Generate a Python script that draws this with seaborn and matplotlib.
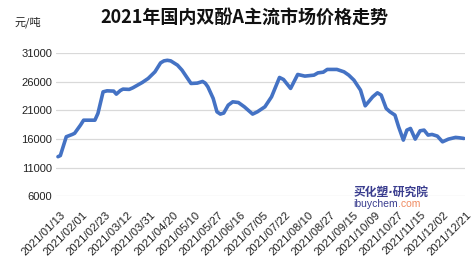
import numpy as np
import pandas as pd
import matplotlib
matplotlib.use("Agg")
import matplotlib.pyplot as plt
import matplotlib.transforms as mtransforms
import seaborn as sns

# ---- data ----
tick_labels = ["2021/01/13", "2021/02/01", "2021/02/23", "2021/03/12", "2021/03/31",
               "2021/04/20", "2021/05/10", "2021/05/27", "2021/06/16", "2021/07/05",
               "2021/07/22", "2021/08/10", "2021/08/27", "2021/09/15", "2021/10/09",
               "2021/10/27", "2021/11/15", "2021/12/02", "2021/12/21"]

dates = ["2021-01-13", "2021-01-15", "2021-01-20", "2021-01-25", "2021-01-27",
         "2021-02-01", "2021-02-04", "2021-02-15", "2021-02-18", "2021-02-23",
         "2021-02-26", "2021-03-03", "2021-03-05", "2021-03-08", "2021-03-10",
         "2021-03-15", "2021-03-18", "2021-03-23", "2021-03-26", "2021-03-31",
         "2021-04-06", "2021-04-11", "2021-04-14", "2021-04-17", "2021-04-20",
         "2021-04-26", "2021-04-30", "2021-05-04", "2021-05-08", "2021-05-13",
         "2021-05-17", "2021-05-19", "2021-05-21", "2021-05-25", "2021-05-28",
         "2021-05-31", "2021-06-03", "2021-06-07", "2021-06-11", "2021-06-16",
         "2021-06-21", "2021-06-28", "2021-07-02", "2021-07-08", "2021-07-13",
         "2021-07-19", "2021-07-22", "2021-07-28", "2021-08-03", "2021-08-09",
         "2021-08-16", "2021-08-19", "2021-08-23", "2021-08-26", "2021-09-03",
         "2021-09-09", "2021-09-13", "2021-09-18", "2021-09-25", "2021-09-30",
         "2021-10-08", "2021-10-12", "2021-10-15", "2021-10-19", "2021-10-22",
         "2021-10-26", "2021-10-29", "2021-11-02", "2021-11-05", "2021-11-08",
         "2021-11-12", "2021-11-16", "2021-11-19", "2021-11-22", "2021-11-25",
         "2021-11-29", "2021-12-03", "2021-12-08", "2021-12-14", "2021-12-17",
         "2021-12-21"]

prices = [12900, 13100, 16400, 16800, 17000,
          18450, 19300, 19300, 20500, 24270,
          24450, 24400, 23870, 24500, 24750,
          24700, 24970, 25560, 25910, 26620,
          27780, 29350, 29700, 29800, 29700,
          28950, 28075, 26900, 25740, 25800,
          26090, 25800, 25150, 23115, 20770,
          20370, 20550, 21940, 22520, 22400,
          21650, 20370, 20770, 21650, 23400,
          26790, 26440, 24870, 27320, 27030,
          27200, 27600, 27720, 28200, 28200,
          27780, 27200, 26320, 24570, 21820,
          23400, 24100, 23700, 21360, 20770,
          20190, 18150, 15810, 17560, 17850,
          15985, 17440, 17560, 16690, 16800,
          16510, 15510, 15980, 16280, 16220,
          16100]

y_ticks = [6000, 11000, 16000, 21000, 26000, 31000]

# map calendar dates onto the evenly spaced category axis of the original chart
tick_dates = pd.to_datetime(tick_labels, format="%Y/%m/%d")
d = pd.to_datetime(dates)
pos = np.interp(d.map(pd.Timestamp.toordinal), tick_dates.map(pd.Timestamp.toordinal),
                np.arange(len(tick_labels)))
df = pd.DataFrame({"pos": pos, "price": prices})

sns.set_theme(style="white")
plt.rcParams["font.family"] = ["Liberation Sans", "Noto Sans CJK SC", "DejaVu Sans"]

fig = plt.figure(figsize=(4.74, 2.66), dpi=100)
ax = fig.add_axes([0.119, 0.263, 0.862, 0.536])

sns.lineplot(data=df, x="pos", y="price", ax=ax, color="#4472c4", linewidth=2.6,
             solid_capstyle="round", solid_joinstyle="round")

ax.set_ylim(6000, 31000)
ax.set_xlim(-0.07, 18.05)
ax.set_yticks(y_ticks)
ax.set_yticklabels([str(v) for v in y_ticks], fontsize=8, color="#222222")
ax.set_xticks(np.arange(len(tick_labels)))
ax.set_xticklabels(tick_labels, rotation=45, ha="right", rotation_mode="anchor",
                   fontsize=8.2, color="#222222")
ax.tick_params(axis="both", length=0, pad=3)
ax.tick_params(axis="x", pad=10)
offset = mtransforms.ScaledTranslation(2 / 100, 0, fig.dpi_scale_trans)
for lbl in ax.get_xticklabels():
    lbl.set_transform(lbl.get_transform() + offset)
ax.yaxis.grid(True, color="#d9d9d9", linewidth=0.9)
ax.xaxis.grid(False)
for s in ax.spines.values():
    s.set_visible(False)
ax.set_xlabel("")
ax.set_ylabel("")

fig.text(0.516, 0.935, "2021年国内双酚A主流市场价格走势", ha="center", va="center",
         fontsize=13, fontweight="bold", family=["Noto Sans CJK SC", "DejaVu Sans"],
         color="#111111")
fig.text(0.031, 0.918, "元/吨", ha="left", va="center", fontsize=8,
         family=["Noto Sans CJK SC", "DejaVu Sans"], color="#222222")

# watermark
fig.text(0.746, 0.278, "买化塑·研究院", ha="left", va="center", fontsize=8.5,
         fontweight="bold", style="italic", family=["DejaVu Sans", "Noto Sans CJK SC"],
         color="#3a3d8f")
t1 = fig.text(0.746, 0.232, "ibuychem", ha="left", va="center", fontsize=7.5,
              color="#3a3d8f")
ax.annotate(".com", xy=(1, 0), xycoords=t1, ha="left", va="bottom", fontsize=7.5,
            color="#f08a60", annotation_clip=False)

fig.savefig("out.png", dpi=100)
